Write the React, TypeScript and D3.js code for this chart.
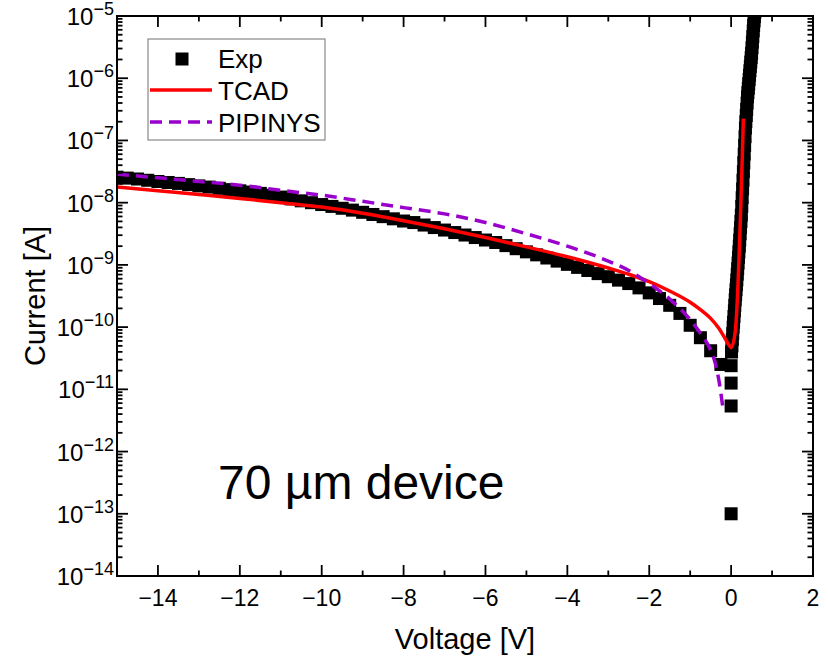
import React from 'react';
import * as d3 from 'd3';

// ---------- data ----------
// Experimental points: reverse branch (0.25 V step), cluster at 0 V, forward branch (0.01 V step)
const expV: number[] = [
  -15, -14.75, -14.5, -14.25, -14, -13.75, -13.5, -13.25, -13, -12.75, -12.5, -12.25,
  -12, -11.75, -11.5, -11.25, -11, -10.75, -10.5, -10.25, -10, -9.75, -9.5, -9.25,
  -9, -8.75, -8.5, -8.25, -8, -7.75, -7.5, -7.25, -7, -6.75, -6.5, -6.25,
  -6, -5.75, -5.5, -5.25, -5, -4.75, -4.5, -4.25, -4, -3.75, -3.5, -3.25,
  -3, -2.75, -2.5, -2.25, -2, -1.75, -1.5, -1.25, -1, -0.75, -0.5, -0.25,
  0, 0, 0, 0,
  0.01, 0.02, 0.03, 0.04, 0.05, 0.06, 0.07, 0.08, 0.09, 0.1,
  0.11, 0.12, 0.13, 0.14, 0.15, 0.16, 0.17, 0.18, 0.19, 0.2,
  0.21, 0.22, 0.23, 0.24, 0.25, 0.26, 0.27, 0.28, 0.29, 0.3,
  0.31, 0.32, 0.33, 0.34, 0.35, 0.36, 0.37, 0.38, 0.39, 0.4,
  0.41, 0.42, 0.43, 0.44, 0.45, 0.46, 0.47, 0.48, 0.49, 0.5,
  0.51, 0.52, 0.53, 0.54, 0.55, 0.56, 0.57, 0.58, 0.59,
];
const expI: number[] = [
  2.57e-8, 2.48e-8, 2.40e-8, 2.29e-8, 2.19e-8, 2.11e-8, 2.04e-8, 1.95e-8, 1.86e-8, 1.78e-8, 1.70e-8, 1.62e-8,
  1.55e-8, 1.48e-8, 1.41e-8, 1.32e-8, 1.23e-8, 1.15e-8, 1.07e-8, 1.00e-8, 9.33e-9, 8.71e-9, 8.13e-9, 7.59e-9,
  7.00e-9, 6.46e-9, 5.96e-9, 5.50e-9, 5.07e-9, 4.79e-9, 4.37e-9, 3.98e-9, 3.63e-9, 3.31e-9, 3.02e-9, 2.75e-9,
  2.51e-9, 2.29e-9, 2.04e-9, 1.82e-9, 1.62e-9, 1.45e-9, 1.29e-9, 1.15e-9, 1.02e-9, 9.12e-10, 8.13e-10, 7.24e-10,
  6.46e-10, 5.69e-10, 5.01e-10, 4.27e-10, 3.55e-10, 2.88e-10, 2.24e-10, 1.66e-10, 1.07e-10, 6.76e-11, 4.17e-11, 2.51e-11,
  2.4e-11, 1.26e-11, 5.4e-12, 1.0e-13,
  3.98e-11, 5.01e-11, 6.31e-11, 7.94e-11, 1.00e-10, 1.20e-10, 1.48e-10, 1.82e-10, 2.24e-10, 2.75e-10,
  3.31e-10, 3.98e-10, 4.79e-10, 5.75e-10, 7.08e-10, 8.71e-10, 1.07e-9, 1.32e-9, 1.62e-9, 2.00e-9,
  2.51e-9, 3.16e-9, 3.98e-9, 5.01e-9, 6.31e-9, 8.71e-9, 1.20e-8, 1.66e-8, 2.29e-8, 3.16e-8,
  4.37e-8, 6.03e-8, 8.32e-8, 1.15e-7, 1.58e-7, 2.00e-7, 2.51e-7, 3.16e-7, 3.98e-7, 5.01e-7,
  5.89e-7, 6.92e-7, 8.13e-7, 9.55e-7, 1.12e-6, 1.32e-6, 1.55e-6, 1.82e-6, 2.14e-6, 2.51e-6,
  3.09e-6, 3.80e-6, 4.68e-6, 5.75e-6, 7.08e-6, 8.32e-6, 9.77e-6, 1.15e-5, 1.35e-5,
];

// TCAD simulation
const tcadV: number[] = [-15, -14, -13, -12, -11, -10, -9, -8, -7, -6, -5, -4, -3, -2.5, -2, -1.5, -1, -0.75, -0.5, -0.3, -0.15, -0.05, 0, 0.1, 0.3];
const tcadI: number[] = [
  1.78e-8, 1.55e-8, 1.35e-8, 1.17e-8, 1.00e-8, 8.51e-9, 6.76e-9, 5.13e-9, 3.80e-9, 2.75e-9, 1.95e-9, 1.35e-9,
  8.91e-10, 7.08e-10, 5.37e-10, 3.80e-10, 2.51e-10, 1.91e-10, 1.38e-10, 9.55e-11, 6.61e-11, 5.13e-11, 4.68e-11,
  8.32e-11, 2.24e-7,
];

// PIPINYS model
const pipV: number[] = [-15, -14, -13, -12, -11, -10, -9, -8, -7, -6, -5, -4, -3, -2.5, -2, -1.5, -1, -0.75, -0.5, -0.4, -0.3, -0.2];
const pipI: number[] = [
  2.88e-8, 2.51e-8, 2.19e-8, 1.91e-8, 1.58e-8, 1.32e-8, 1.05e-8, 8.32e-9, 6.61e-9, 4.79e-9, 3.16e-9, 2.00e-9,
  1.15e-9, 8.13e-10, 5.01e-10, 2.82e-10, 1.32e-10, 7.94e-11, 4.27e-11, 2.82e-11, 1.41e-11, 5.01e-12,
];

const xMajorTicks: number[] = [-14, -12, -10, -8, -6, -4, -2, 0, 2];
const xMinorTicks: number[] = [-13, -11, -9, -7, -5, -3, -1, 1];
const yDecades: number[] = [-14, -13, -12, -11, -10, -9, -8, -7, -6, -5];

const legendLabels: string[] = ['Exp', 'TCAD', 'PIPINYS'];
const FONT = '"Liberation Sans", Arial, Helvetica, sans-serif';
const RED = '#ff0000';
const PURPLE = '#9900cc';

export default function App() {
  const W = 828, H = 658;
  const L = 117, R = 813, T = 16, B = 576;
  const x = d3.scaleLinear().domain([-15, 2]).range([L, R]);
  const y = d3.scaleLog().domain([1e-14, 1e-5]).range([B, T]);

  const line = d3
    .line<[number, number]>()
    .x((d) => x(d[0]))
    .y((d) => y(d[1]))
    .curve(d3.curveMonotoneX);

  const tcadPts: [number, number][] = tcadV.map((v, i) => [v, tcadI[i]]);
  const pipPts: [number, number][] = pipV.map((v, i) => [v, pipI[i]]);

  const sq = 13;
  const majLen = 11, minLen = 5.5;

  const yMinor: number[] = [];
  for (let e = -14; e < -5; e++) for (let k = 2; k <= 9; k++) yMinor.push(k * Math.pow(10, e));

  const minus = (n: number) => (n < 0 ? '\u2212' + Math.abs(n) : String(n));

  return (
    <svg width={W} height={H} style={{ position: 'absolute', left: 0, top: 0, background: '#fff' }} fontFamily={FONT}>
      <defs>
        <clipPath id="plotClip">
          <rect x={L} y={T} width={R - L} height={B - T} />
        </clipPath>
      </defs>
      <rect x={0} y={0} width={W} height={H} fill="#fff" />

      {/* data */}
      <g clipPath="url(#plotClip)">
        {expV.map((v, i) => (
          <rect key={'e' + i} x={x(v) - sq / 2} y={y(expI[i]) - sq / 2} width={sq} height={sq} fill="#000" />
        ))}
        <path d={line(tcadPts) || ''} fill="none" stroke={RED} strokeWidth={3.5} strokeLinejoin="round" />
        <path d={line(pipPts) || ''} fill="none" stroke={PURPLE} strokeWidth={3.5} strokeDasharray="12,7" />
      </g>

      {/* ticks */}
      <g stroke="#000" strokeWidth={1.8}>
        {xMajorTicks.map((t) => (
          <g key={'xm' + t}>
            <line x1={x(t)} x2={x(t)} y1={B} y2={B - majLen} />
            <line x1={x(t)} x2={x(t)} y1={T} y2={T + majLen} />
          </g>
        ))}
        {xMinorTicks.map((t) => (
          <g key={'xn' + t}>
            <line x1={x(t)} x2={x(t)} y1={B} y2={B - minLen} />
            <line x1={x(t)} x2={x(t)} y1={T} y2={T + minLen} />
          </g>
        ))}
        {yDecades.map((e) => {
          const yy = y(Math.pow(10, e));
          return (
            <g key={'ym' + e}>
              <line x1={L} x2={L + majLen} y1={yy} y2={yy} />
              <line x1={R} x2={R - majLen} y1={yy} y2={yy} />
            </g>
          );
        })}
        {yMinor.map((v, i) => {
          const yy = y(v);
          return (
            <g key={'yn' + i}>
              <line x1={L} x2={L + minLen} y1={yy} y2={yy} />
              <line x1={R} x2={R - minLen} y1={yy} y2={yy} />
            </g>
          );
        })}
      </g>

      {/* frame */}
      <rect x={L} y={T} width={R - L} height={B - T} fill="none" stroke="#000" strokeWidth={2} />

      {/* x tick labels */}
      {xMajorTicks.map((t) => (
        <text key={'xl' + t} x={x(t)} y={606} fontSize={23} textAnchor="middle" fill="#000">
          {minus(t)}
        </text>
      ))}

      {/* y tick labels */}
      {yDecades.map((e) => (
        <text key={'yl' + e} x={114} y={y(Math.pow(10, e)) + 9} fontSize={24} textAnchor="end" fill="#000">
          <tspan>10</tspan>
          <tspan dy={-10} fontSize={18}>{minus(e)}</tspan>
        </text>
      ))}

      {/* axis titles */}
      <text x={(L + R) / 2} y={649} fontSize={29} textAnchor="middle" fill="#000">
        Voltage [V]
      </text>
      <text transform={`translate(45, ${(T + B) / 2}) rotate(-90)`} fontSize={29} textAnchor="middle" fill="#000">
        Current [A]
      </text>

      {/* annotation */}
      <text x={218} y={499} fontSize={48} fill="#000">
        70 µm device
      </text>

      {/* legend */}
      <g>
        <rect x={148} y={39} width={177} height={101} fill="#fff" stroke="#888" strokeWidth={1.2} />
        <rect x={182 - sq / 2} y={59 - sq / 2} width={sq} height={sq} fill="#000" />
        <line x1={150} x2={212} y1={90} y2={90} stroke={RED} strokeWidth={3.5} />
        <line x1={150} x2={212} y1={122} y2={122} stroke={PURPLE} strokeWidth={3.5} strokeDasharray="12,7" />
        {legendLabels.map((s, i) => (
          <text key={s} x={218} y={68 + i * 32} fontSize={26} fill="#000">
            {s}
          </text>
        ))}
      </g>
    </svg>
  );
}
